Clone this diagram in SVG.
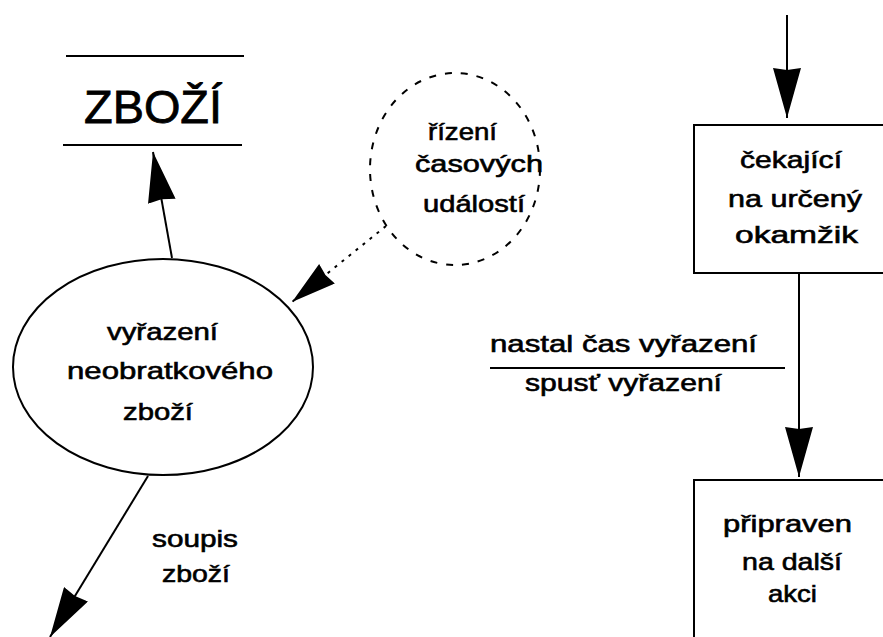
<svg xmlns="http://www.w3.org/2000/svg" width="883" height="637" viewBox="0 0 883 637">
<defs>
<style>
text{font-family:"Liberation Sans","DejaVu Sans",sans-serif;fill:#000}
.t{font-size:24px;stroke:#000;stroke-width:0.6}
.s{fill:none;stroke:#000;stroke-width:2}
</style>
<marker id="ah" viewBox="0 0 50 28" refX="50" refY="14" markerWidth="50" markerHeight="28" markerUnits="userSpaceOnUse" orient="auto">
<path d="M0,0 L50,14 L0,28 L2,14 Z" fill="#000"/>
</marker>
<marker id="ahs" viewBox="0 0 45 25" refX="45" refY="12.5" markerWidth="45" markerHeight="25" markerUnits="userSpaceOnUse" orient="auto">
<path d="M0,0 L45,12.5 L0,25 L2,12.5 Z" fill="#000"/>
</marker>
</defs>
<rect width="883" height="637" fill="#fff"/>
<g id="store-zbozi">
<line class="s" x1="66" y1="56" x2="244" y2="56" stroke-width="3"/>
<line class="s" x1="63" y1="145" x2="242" y2="145" stroke-width="3"/>
<text x="84" y="123" textLength="138" lengthAdjust="spacingAndGlyphs" style="font-size:47px;stroke:#000;stroke-width:0.8">ZBOŽÍ</text>
</g>
<g id="control-process">
<ellipse class="s" cx="455" cy="169" rx="85" ry="96" stroke-dasharray="7,9" stroke-width="2.5"/>
<text class="t" x="428" y="140" textLength="69" lengthAdjust="spacingAndGlyphs">řízení</text>
<text class="t" x="415" y="172" textLength="128" lengthAdjust="spacingAndGlyphs">časových</text>
<text class="t" x="423" y="212" textLength="102" lengthAdjust="spacingAndGlyphs">událostí</text>
</g>
<g id="process-vyrazeni">
<ellipse class="s" cx="163" cy="367" rx="150" ry="108" stroke-width="2.5"/>
<text class="t" x="107" y="340" textLength="111" lengthAdjust="spacingAndGlyphs">vyřazení</text>
<text class="t" x="67" y="379" textLength="206" lengthAdjust="spacingAndGlyphs">neobratkového</text>
<text class="t" x="123" y="420" textLength="70" lengthAdjust="spacingAndGlyphs">zboží</text>
</g>
<g id="state-cekajici">
<rect class="s" x="694" y="125" width="200" height="148" stroke-width="2.5"/>
<text class="t" x="740" y="168" textLength="102" lengthAdjust="spacingAndGlyphs">čekající</text>
<text class="t" x="728" y="207" textLength="134" lengthAdjust="spacingAndGlyphs">na určený</text>
<text class="t" x="735" y="243" textLength="123" lengthAdjust="spacingAndGlyphs">okamžik</text>
</g>
<g id="state-pripraven">
<rect class="s" x="694" y="480" width="200" height="170" stroke-width="2.5"/>
<text class="t" x="723" y="532" textLength="129" lengthAdjust="spacingAndGlyphs">připraven</text>
<text class="t" x="742" y="570" textLength="100" lengthAdjust="spacingAndGlyphs">na další</text>
<text class="t" x="768" y="602" textLength="49" lengthAdjust="spacingAndGlyphs">akci</text>
</g>
<g id="connectors">
<line class="s" x1="172" y1="258" x2="153" y2="152" marker-end="url(#ah)"/>
<line class="s" x1="386" y1="226" x2="292" y2="302" stroke-dasharray="3,6" marker-end="url(#ahs)"/>
<line class="s" x1="148" y1="476" x2="50" y2="637" marker-end="url(#ah)"/>
<line class="s" x1="787" y1="15" x2="787" y2="118" stroke-width="3" marker-end="url(#ah)"/>
<line class="s" x1="799" y1="273" x2="799" y2="477" marker-end="url(#ah)"/>
<text class="t" x="152" y="547" textLength="86" lengthAdjust="spacingAndGlyphs">soupis</text>
<text class="t" x="162" y="582" textLength="68" lengthAdjust="spacingAndGlyphs">zboží</text>
<text class="t" x="490" y="352" textLength="267" lengthAdjust="spacingAndGlyphs">nastal čas vyřazení</text>
<line class="s" x1="490" y1="368" x2="785" y2="368"/>
<text class="t" x="525" y="391" textLength="197" lengthAdjust="spacingAndGlyphs">spusť vyřazení</text>
</g>
</svg>
